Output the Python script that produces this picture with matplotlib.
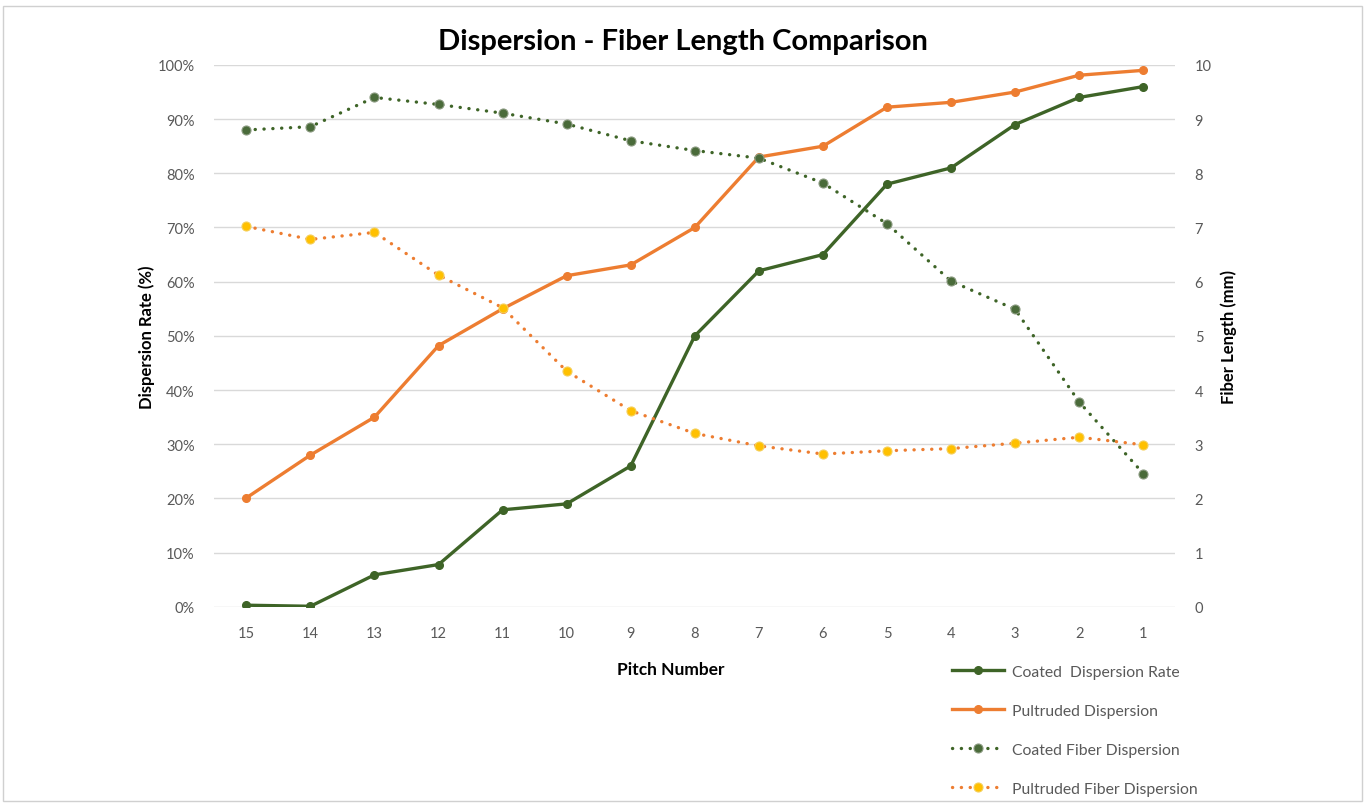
import numpy as np
import matplotlib.pyplot as plt
from matplotlib.patches import Rectangle

plt.rcParams['font.family'] = ['Lato', 'DejaVu Sans']

# --- data ---
pitch = ["15", "14", "13", "12", "11", "10", "9", "8", "7", "6", "5", "4", "3", "2", "1"]

coated_rate = [0.3, 0.1, 5.9, 7.8, 17.9, 19.0, 26.0, 50.0, 62.0, 65.0, 78.0, 81.0, 89.0, 94.0, 96.0]
pultruded_rate = [20.1, 28.0, 35.0, 48.2, 55.0, 61.1, 63.1, 70.0, 83.0, 85.0, 92.2, 93.1, 95.0, 98.1, 99.0]

coated_fiber = [8.80, 8.86, 9.40, 9.27, 9.11, 8.91, 8.60, 8.42, 8.28, 7.82, 7.07, 6.01, 5.49, 3.78, 2.46]
pultruded_fiber = [7.02, 6.78, 6.91, 6.12, 5.52, 4.35, 3.62, 3.20, 2.97, 2.82, 2.88, 2.92, 3.02, 3.13, 2.99]

GREEN = "#3E6427"
ORANGE = "#ED7D31"
GOLD = "#FFC000"
GRID = "#D9D9D9"
TXT = "#595959"

fig = plt.figure(figsize=(13.65, 8.04), dpi=100)
ax = fig.add_axes([0.157, 0.244, 0.704, 0.674])
ax2 = ax.twinx()

x = np.arange(len(pitch))
dots = (0, (0.05, 2.6))

l1, = ax.plot(x, coated_rate, color=GREEN, lw=2.4, marker="o", ms=5.5,
              label="Coated  Dispersion Rate", zorder=3)
l2, = ax.plot(x, pultruded_rate, color=ORANGE, lw=2.4, marker="o", ms=5.5,
              label="Pultruded Dispersion", zorder=3)
l3, = ax2.plot(x, coated_fiber, color=GREEN, lw=2.4, ls=dots,
               dash_capstyle="round", marker="o", ms=6.5, mfc="#4A6B3A", mec="#8A9A80",
               mew=0.8, label="Coated Fiber Dispersion", zorder=3)
l4, = ax2.plot(x, pultruded_fiber, color=ORANGE, lw=2.4, ls=dots,
               dash_capstyle="round", marker="o", ms=6.5, mfc=GOLD, mec="#F5CF5A",
               mew=0.8, label="Pultruded Fiber Dispersion", zorder=3)

ax.set_xlim(-0.5, len(pitch) - 0.5)
ax.set_ylim(0, 100)
ax2.set_ylim(0, 10)
ax.set_xticks(x)
ax.set_xticklabels(pitch)
ax.set_yticks(np.arange(0, 101, 10))
ax.set_yticklabels([f"{v}%" for v in range(0, 101, 10)])
ax2.set_yticks(np.arange(0, 11, 1))

ax.grid(axis="y", color=GRID, lw=1.0)
ax.set_axisbelow(True)
for a in (ax, ax2):
    for s in a.spines.values():
        s.set_visible(False)
    a.tick_params(length=0, labelsize=10.5, colors=TXT)
ax.tick_params(axis="x", pad=14)
ax.tick_params(axis="y", pad=14)
ax2.tick_params(axis="y", pad=14)

ax.set_ylabel("Dispersion Rate (%)", fontsize=12, fontweight="bold", color="black", labelpad=2)
ax2.set_ylabel("Fiber Length (mm)", fontsize=12, fontweight="bold", color="black", labelpad=6)
fig.text(671 / 1365, 1 - 670 / 804, "Pitch Number", ha="center", va="center",
         fontsize=12.5, fontweight="bold", color="black")

fig.text(683 / 1365, 1 - 42 / 804, "Dispersion - Fiber Length Comparison", ha="center", va="center",
         fontsize=21, fontweight="bold", color="black")

fig.legend(handles=[l1, l2, l3, l4], loc="upper left", bbox_to_anchor=(0.693, 0.180),
           frameon=False, fontsize=11.3, labelcolor=TXT, labelspacing=1.6,
           handlelength=3.3, handletextpad=0.5, borderaxespad=0)

fig.patches.append(Rectangle((0.002, 0.002), 0.996, 0.989, transform=fig.transFigure,
                             fill=False, edgecolor="#D0D0D0", lw=1.0))

fig.savefig("out.png", dpi=100)
